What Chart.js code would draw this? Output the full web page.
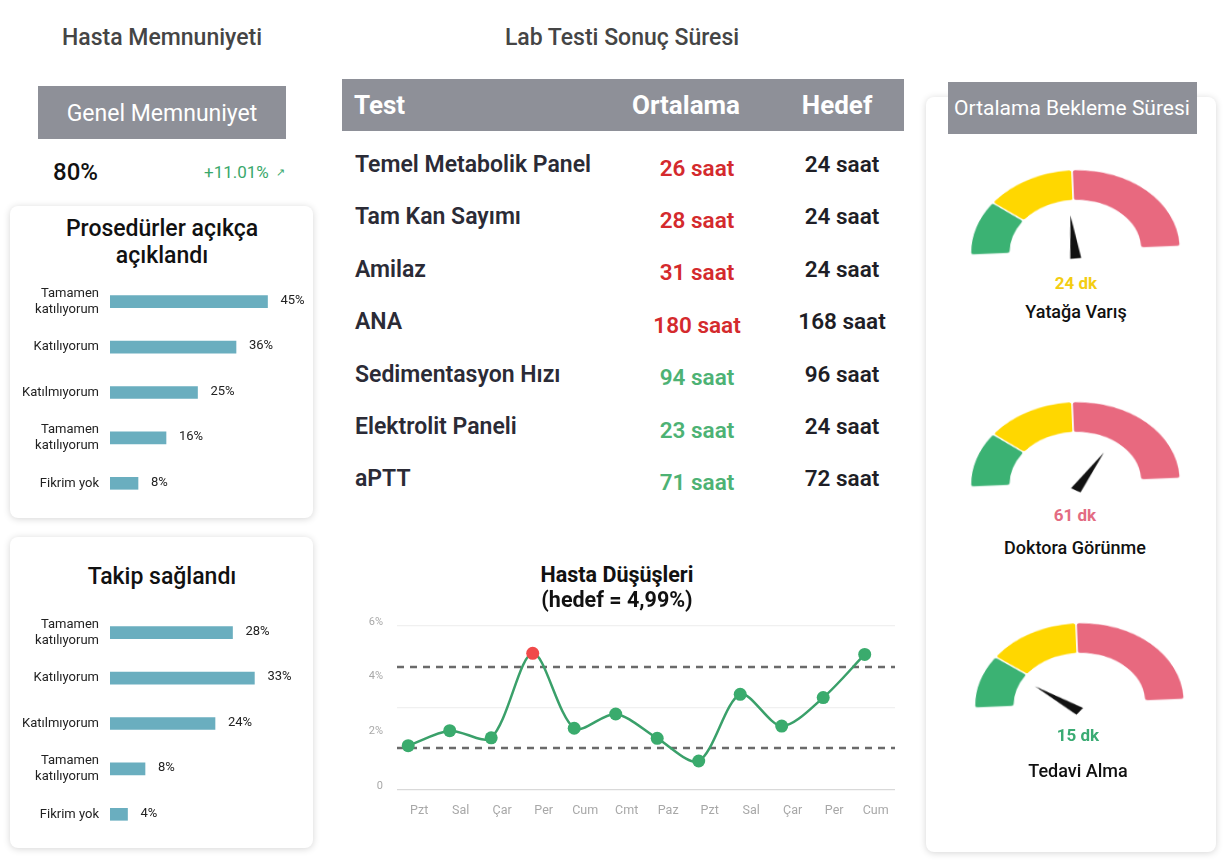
<!DOCTYPE html>
<html lang="tr"><head><meta charset="utf-8">
<script src="https://cdn.jsdelivr.net/npm/chart.js@4.4.1/dist/chart.umd.min.js"></script>
<style>
html,body{margin:0;padding:0;background:#fff;}
body{width:1232px;height:864px;position:relative;overflow:hidden;font-family:Roboto,'Noto Sans',sans-serif;}
.t{position:absolute;white-space:nowrap;transform:translate(-50%,-50%);}
.tl{position:absolute;white-space:nowrap;transform:translateY(-50%);}
.card{position:absolute;background:#fff;border-radius:8px;box-shadow:0 1px 7px rgba(0,0,0,0.17);}
.grey{position:absolute;background:#8e9098;}
canvas{position:absolute;}
</style></head>
<body>
<div class="card" style="left:10px;top:206px;width:303px;height:312px;"></div>
<div class="card" style="left:10px;top:537px;width:303px;height:311px;"></div>
<div class="card" style="left:926px;top:97px;width:290px;height:755px;"></div>
<div class="grey" style="left:38px;top:86px;width:248px;height:53px;"></div>
<div class="grey" style="left:342px;top:79px;width:562px;height:52px;"></div>
<div class="grey" style="left:948px;top:82px;width:249px;height:52px;"></div>

<canvas id="bar1" width="303" height="227" style="left:10px;top:279px;width:303px;height:227px;"></canvas>
<canvas id="bar2" width="303" height="227" style="left:10px;top:610px;width:303px;height:227px;"></canvas>
<canvas id="falls" width="560" height="230" style="left:345px;top:600px;width:560px;height:230px;"></canvas>
<canvas id="g0" width="230" height="135" style="left:958.5px;top:164.4px;width:230px;height:104px;transform:rotate(-2.4deg);"></canvas>
<canvas id="g1" width="230" height="135" style="left:959.3px;top:395.9px;width:230px;height:104px;transform:rotate(-2.4deg);"></canvas>
<canvas id="g2" width="230" height="135" style="left:963.3px;top:616.7px;width:230px;height:104px;transform:rotate(-2.4deg);"></canvas>
<div id="texts"></div>

<script>
// ---------------- DATA ----------------
const headerTexts = ["Hasta Memnuniyeti", "Lab Testi Sonuç Süresi"];
const overallLabel = "Genel Memnuniyet";
const overallValue = "80%";
const overallChange = "+11.01%";

const surveyCategories = [["Tamamen", "katılıyorum"], "Katılıyorum", "Katılmıyorum", ["Tamamen", "katılıyorum"], "Fikrim yok"];
const proceduresTitle = ["Prosedürler açıkça", "açıklandı"];
const proceduresValues = [45, 36, 25, 16, 8];
const followUpTitle = ["Takip sağlandı"];
const followUpValues = [28, 33, 24, 8, 4];

const labColumns = ["Test", "Ortalama", "Hedef"];
const labTests = ["Temel Metabolik Panel", "Tam Kan Sayımı", "Amilaz", "ANA", "Sedimentasyon Hızı", "Elektrolit Paneli", "aPTT"];
const labAvgHours = [26, 28, 31, 180, 94, 23, 71];
const labTargetHours = [24, 24, 24, 168, 96, 24, 72];

const fallTitle = ["Hasta Düşüşleri", "(hedef = 4,99%)"];
const fallDays = ["Pzt", "Sal", "Çar", "Per", "Cum", "Cmt", "Paz", "Pzt", "Sal", "Çar", "Per", "Cum"];
const fallRates = [1.62, 2.17, 1.91, 5.0, 2.26, 2.78, 1.89, 1.06, 3.50, 2.34, 3.38, 4.96];
const fallTarget = 4.99;
const fallUpperLimit = 4.5;
const fallLowerLimit = 1.53;
const fallTickValues = [0, 2, 3, 4, 6];

const waitTitle = "Ortalama Bekleme Süresi";
const gaugeLabels = ["Yatağa Varış", "Doktora Görünme", "Tedavi Alma"];
const gaugeValues = [24, 61, 15];
const gaugeZones = [[11, 14, 25], [20, 25, 45], [15, 20, 35]]; // green, yellow, red (dk)

// ---------------- STYLE ----------------
const BAR_COLOR = '#6aaebf';
const GREEN = '#3bb273', YELLOW = '#ffd700', PINK = '#e8697f';
const LINE_GREEN = '#3aa06a', PT_GREEN = '#3aab6d', PT_RED = '#f04a4a';

Chart.defaults.font.family = "Roboto, 'Noto Sans', sans-serif";
Chart.defaults.animation = false;
Chart.defaults.plugins.legend.display = false;
Chart.defaults.plugins.tooltip.enabled = false;

// ---------------- TEXT ----------------
const box = document.getElementById('texts');
function txt(s, x, y, css, left) {
  const d = document.createElement('div');
  d.className = left ? 'tl' : 't';
  d.textContent = s;
  d.style.left = x + 'px'; d.style.top = y + 'px';
  d.style.cssText += css;
  box.appendChild(d);
  return d;
}
txt(headerTexts[0], 162, 37, 'font-size:23px;font-weight:500;color:#454545;');
txt(headerTexts[1], 622, 37, 'font-size:23px;font-weight:500;color:#454545;');
txt(overallLabel, 162, 113, 'font-size:23px;font-weight:400;color:#fff;');
txt(overallValue, 53, 172, 'font-size:24px;font-weight:500;color:#111;', true);
txt(overallChange, 204, 172, 'font-size:17px;font-weight:400;color:#3aa86b;', true);
txt('↗', 276, 172, 'font-size:11px;color:#3aa86b;', true);

proceduresTitle.forEach((s, i) => txt(s, 162, 228 + i * 27, 'font-size:23px;font-weight:500;color:#111;'));
followUpTitle.forEach((s, i) => txt(s, 162, 576 + i * 27, 'font-size:23px;font-weight:500;color:#111;'));

// table
txt(labColumns[0], 354, 105, 'font-size:26px;font-weight:700;color:#fff;', true);
txt(labColumns[1], 686, 105, 'font-size:26px;font-weight:700;color:#fff;');
txt(labColumns[2], 837, 105, 'font-size:26px;font-weight:700;color:#fff;');
labTests.forEach((name, i) => {
  const y = 164 + i * 52.4;
  const over = labAvgHours[i] > labTargetHours[i];
  txt(name, 355, y, 'font-size:23px;font-weight:600;color:#2b2b36;', true);
  txt(labAvgHours[i] + ' saat', 697, y + 3.5, 'font-size:22.5px;font-weight:600;color:' + (over ? '#d42a2d' : '#4db274') + ';');
  txt(labTargetHours[i] + ' saat', 842, y, 'font-size:22.5px;font-weight:600;color:#1e1e26;');
});

fallTitle.forEach((s, i) => txt(s, 617, 574 + i * 24.5, 'font-size:21.5px;font-weight:700;color:#111;'));

txt(waitTitle, 1072, 108, 'font-size:21px;font-weight:400;color:#fff;');
const gaugeTextPos = [[1076, 283, 311], [1075, 515, 547], [1078, 735, 770]];
gaugeLabels.forEach((lab, i) => {
  const z = gaugeZones[i], v = gaugeValues[i];
  const col = v <= z[0] ? '#3aab73' : (v <= z[0] + z[1] ? '#f3cd12' : '#e36b82');
  const p = gaugeTextPos[i];
  txt(v + ' dk', p[0], p[1], 'font-size:17px;font-weight:700;color:' + col + ';');
  txt(lab, p[0], p[2], 'font-size:18px;font-weight:500;color:#111;');
});

// ---------------- SURVEY BARS ----------------
const barValueLabels = {
  id: 'barValueLabels',
  afterDatasetsDraw(chart) {
    const ctx = chart.ctx, meta = chart.getDatasetMeta(0), vals = chart.data.datasets[0].data;
    ctx.save();
    ctx.font = "13px Roboto, 'Noto Sans', sans-serif";
    ctx.fillStyle = '#222'; ctx.textBaseline = 'middle'; ctx.textAlign = 'left';
    meta.data.forEach((bar, i) => ctx.fillText(vals[i] + '%', bar.x + 13, bar.y - 1));
    ctx.restore();
  }
};
function surveyChart(id, values, xMax) {
  new Chart(document.getElementById(id), {
    type: 'bar',
    data: { labels: surveyCategories, datasets: [{ data: values, backgroundColor: BAR_COLOR, barThickness: 12, borderWidth: 0 }] },
    options: {
      indexAxis: 'y', responsive: false,
      layout: { padding: { right: 28 } },
      scales: {
        x: { display: false, min: 0, max: xMax },
        y: {
          grid: { display: false, drawTicks: false }, border: { display: false },
          ticks: { padding: 11, color: '#222', font: { size: 13, lineHeight: 1.2 } },
          afterFit(s) { s.width = 100; s.paddingTop = 0; s.paddingBottom = 0; }
        }
      }
    },
    plugins: [barValueLabels]
  });
}
surveyChart('bar1', proceduresValues, 50);
surveyChart('bar2', followUpValues, 40);

// ---------------- FALLS LINE ----------------
const limitLines = {
  id: 'limitLines',
  beforeDatasetsDraw(chart) {
    const { ctx, chartArea: a, scales: { y } } = chart;
    ctx.save();
    ctx.strokeStyle = '#6a6a6a'; ctx.lineWidth = 2.5; ctx.setLineDash([7, 6]);
    [fallUpperLimit, fallLowerLimit].forEach(v => {
      const py = Math.round(y.getPixelForValue(v));
      ctx.beginPath(); ctx.moveTo(a.left, py); ctx.lineTo(a.right, py); ctx.stroke();
    });
    ctx.restore();
  }
};
new Chart(document.getElementById('falls'), {
  type: 'line',
  data: {
    datasets: [{
      data: fallRates.map((v, i) => ({ x: i, y: v })),
      borderColor: LINE_GREEN, borderWidth: 2.5, tension: 0.3,
      pointRadius: 6.5, pointBorderWidth: 0,
      pointBackgroundColor: fallRates.map(v => v > fallTarget ? PT_RED : PT_GREEN)
    }]
  },
  options: {
    responsive: false,
    layout: { padding: { top: 26, right: 10 } },
    scales: {
      x: {
        type: 'linear', min: -0.27, max: fallDays.length - 0.27,
        grid: { display: false, drawTicks: false }, border: { display: false },
        afterBuildTicks(s) { s.ticks = fallDays.map((_, i) => ({ value: i })); },
        ticks: { padding: 13, labelOffset: 11, color: '#a8a8a8', font: { size: 12.5 }, callback: v => fallDays[v] },
        afterFit(s) { s.height = 40; s.paddingLeft = 0; s.paddingRight = 0; }
      },
      y: {
        min: 0, max: 6,
        border: { display: false },
        afterBuildTicks(s) { s.ticks = fallTickValues.map(v => ({ value: v })); },
        grid: {
          drawTicks: false, lineWidth: 1.2,
          color: c => c.tick.value === 0 ? '#d9d9d9' : (c.tick.value === 3 || c.tick.value === 6 ? '#f0f0f0' : 'rgba(0,0,0,0)')
        },
        ticks: {
          padding: 14, labelOffset: -4, color: '#a8a8a8', font: { size: 11 },
          callback: v => v === 3 ? '' : (v === 0 ? '0' : v + '%')
        },
        afterFit(s) { s.width = 52; s.paddingTop = 0; s.paddingBottom = 0; }
      }
    }
  },
  plugins: [limitLines]
});

// ---------------- GAUGES ----------------
const needle = {
  id: 'needle',
  afterDatasetsDraw(chart, args, opts) {
    const arc = chart.getDatasetMeta(0).data[0];
    const cx = arc.x, cy = arc.y + 10;
    const ang = Math.PI + Math.PI * (opts.value / opts.max);
    const L = 56, w = 5.5;
    const ctx = chart.ctx;
    ctx.save();
    ctx.fillStyle = '#111';
    ctx.beginPath();
    ctx.moveTo(cx + L * Math.cos(ang), cy + L * Math.sin(ang));
    ctx.lineTo(cx - Math.sin(ang) * w, cy + Math.cos(ang) * w);
    ctx.lineTo(cx + Math.sin(ang) * w, cy - Math.cos(ang) * w);
    ctx.closePath(); ctx.fill();
    ctx.restore();
  }
};
gaugeZones.forEach((zones, i) => {
  new Chart(document.getElementById('g' + i), {
    type: 'doughnut',
    data: {
      labels: ['yeşil', 'sarı', 'kırmızı'],
      datasets: [{
        data: zones, backgroundColor: [GREEN, YELLOW, PINK],
        borderColor: '#fff', borderWidth: 1.5, borderRadius: 3,
        radius: 105, cutout: '62%', rotation: -90, circumference: 180
      }]
    },
    options: {
      responsive: false,
      layout: { padding: { bottom: 15 } },
      plugins: { needle: { value: gaugeValues[i], max: zones.reduce((a, b) => a + b, 0) } }
    },
    plugins: [needle]
  });
});
</script>
</body></html>
